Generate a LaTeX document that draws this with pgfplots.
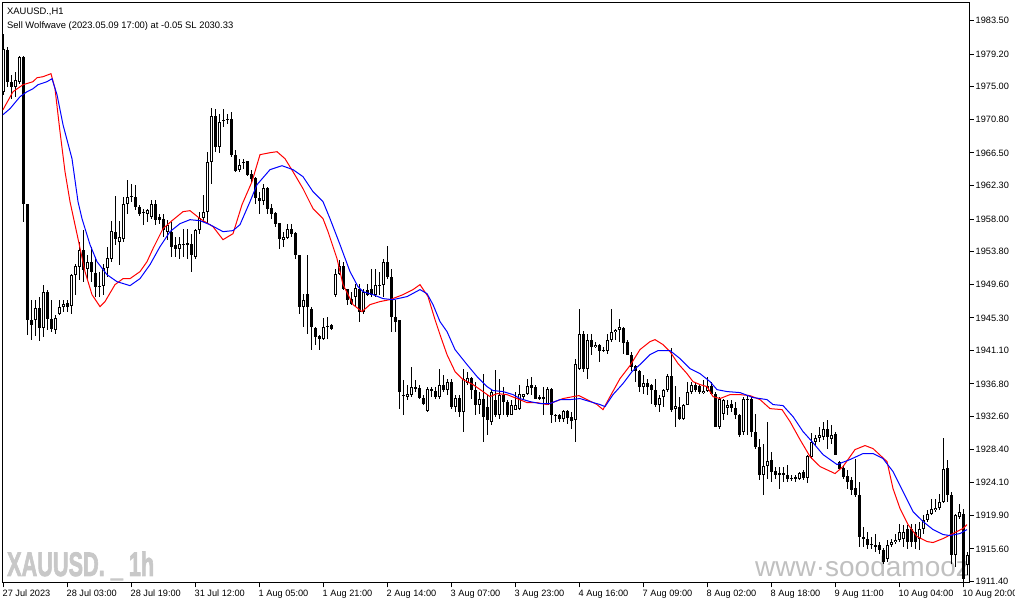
\documentclass[border=0pt]{standalone}
\usepackage{fontspec}
\setmainfont{Liberation Sans}
\newfontfamily\wmfont{Liberation Sans Bold}[FakeBold=2.5]
\usepackage{pgfplots}
\pgfplotsset{compat=1.18}
\usepackage{pgfplotstable}

\definecolor{wmgray}{RGB}{200,200,200}
\definecolor{wmgray2}{RGB}{192,192,192}

% XAUUSD H1 candles: bar index, open, high, low, close
\pgfplotstableread{
i o h l c
0 1974.37 1981.83 1973.99 1979.90
1 1979.77 1980.16 1975.02 1975.66
2 1975.66 1976.56 1973.47 1975.02
3 1975.02 1976.94 1973.73 1975.92
4 1975.66 1979.00 1975.40 1978.87
5 1978.87 1979.00 1957.67 1959.98
6 1959.98 1959.98 1943.14 1945.07
7 1945.07 1947.64 1942.50 1944.43
8 1945.07 1947.64 1943.01 1946.61
9 1946.61 1948.03 1942.37 1944.04
10 1944.04 1949.57 1942.89 1948.67
11 1948.67 1948.93 1943.79 1945.20
12 1945.20 1947.64 1943.53 1943.91
13 1943.79 1945.71 1943.27 1945.33
14 1945.84 1947.64 1945.71 1946.74
15 1946.74 1947.64 1946.10 1947.13
16 1947.26 1947.64 1946.10 1946.74
17 1946.87 1950.98 1945.84 1950.85
18 1950.85 1952.27 1948.28 1952.01
19 1951.88 1955.10 1950.21 1954.07
20 1954.07 1956.64 1949.95 1951.50
21 1951.63 1953.42 1950.34 1952.52
22 1952.52 1954.45 1949.95 1951.24
23 1951.11 1953.17 1948.03 1949.31
24 1949.44 1951.24 1948.03 1949.31
25 1949.44 1952.27 1948.28 1951.75
26 1951.75 1954.45 1950.60 1953.04
27 1952.91 1957.79 1952.52 1956.51
28 1956.38 1961.01 1954.71 1955.48
29 1955.10 1957.79 1952.14 1955.74
30 1955.48 1960.88 1955.10 1959.98
31 1959.98 1963.06 1958.69 1960.88
32 1961.01 1962.55 1960.24 1960.88
33 1960.88 1962.42 1959.21 1959.59
34 1959.59 1959.85 1958.44 1958.69
35 1958.95 1959.34 1957.28 1958.82
36 1958.69 1959.34 1957.67 1959.21
37 1958.31 1960.49 1958.05 1959.98
38 1959.98 1960.49 1957.28 1957.92
39 1958.31 1958.69 1957.41 1957.92
40 1958.05 1958.69 1955.74 1956.64
41 1956.38 1957.92 1955.35 1957.28
42 1956.38 1957.67 1953.17 1954.45
43 1954.71 1955.74 1953.17 1954.20
44 1954.20 1955.74 1952.91 1954.84
45 1954.84 1956.77 1953.17 1954.71
46 1954.71 1956.77 1952.91 1954.90
47 1954.84 1956.12 1951.24 1953.42
48 1953.17 1956.77 1952.91 1956.64
49 1956.64 1958.95 1956.12 1958.18
50 1958.18 1961.14 1957.67 1958.95
51 1958.95 1966.66 1957.41 1965.38
52 1965.38 1972.32 1962.55 1971.29
53 1971.29 1972.19 1966.66 1967.30
54 1967.30 1971.55 1966.53 1970.52
55 1970.65 1972.19 1969.87 1970.78
56 1970.90 1971.55 1970.26 1970.78
57 1970.90 1971.80 1966.02 1966.28
58 1966.28 1966.92 1964.09 1964.22
59 1964.35 1965.76 1964.09 1964.99
60 1965.38 1965.76 1964.48 1965.25
61 1965.51 1965.51 1963.58 1963.71
62 1963.83 1964.35 1962.81 1963.19
63 1963.32 1963.45 1959.98 1960.75
64 1960.75 1961.52 1958.69 1960.37
65 1960.37 1962.55 1959.85 1962.03
66 1962.03 1962.16 1958.69 1959.34
67 1959.46 1959.98 1958.05 1958.69
68 1958.82 1958.95 1957.02 1957.41
69 1957.54 1957.54 1954.20 1955.48
70 1955.35 1956.38 1954.45 1955.74
71 1955.61 1957.41 1955.48 1956.77
72 1956.77 1957.41 1955.74 1956.12
73 1956.25 1956.38 1952.91 1953.42
74 1953.42 1953.42 1945.84 1946.74
75 1946.74 1948.41 1944.17 1947.64
76 1948.41 1953.42 1943.27 1946.74
77 1946.48 1946.74 1941.22 1944.17
78 1944.04 1944.17 1941.86 1942.89
79 1943.01 1943.14 1941.22 1942.63
80 1942.63 1945.33 1942.50 1944.17
81 1944.17 1945.46 1942.63 1944.30
82 1944.43 1944.56 1943.79 1943.91
83 1948.28 1951.63 1948.03 1950.98
84 1950.98 1952.78 1950.85 1952.01
85 1952.01 1952.52 1948.93 1949.05
86 1949.05 1949.05 1947.00 1947.64
87 1947.77 1948.67 1947.00 1947.13
88 1948.03 1949.70 1946.74 1949.18
89 1949.05 1949.70 1944.81 1946.10
90 1946.10 1949.05 1945.84 1948.67
91 1948.93 1949.70 1948.16 1948.28
92 1949.05 1951.63 1948.03 1948.28
93 1948.28 1951.63 1948.03 1949.57
94 1949.44 1951.24 1948.28 1949.57
95 1949.57 1952.91 1948.03 1952.52
96 1952.52 1954.58 1950.34 1950.60
97 1950.60 1951.63 1943.53 1945.46
98 1945.46 1947.64 1943.53 1944.81
99 1945.07 1945.07 1933.63 1935.82
100 1935.43 1937.36 1932.86 1935.30
101 1935.17 1936.72 1934.79 1935.56
102 1935.43 1939.03 1935.17 1936.46
103 1936.46 1937.36 1935.82 1936.20
104 1936.33 1936.72 1934.92 1935.05
105 1935.05 1935.43 1934.15 1934.28
106 1933.37 1936.46 1933.25 1936.20
107 1936.20 1936.46 1935.17 1935.95
108 1935.95 1936.46 1934.92 1935.17
109 1935.17 1938.77 1934.92 1936.72
110 1936.72 1938.00 1935.82 1936.07
111 1936.07 1937.49 1935.43 1937.10
112 1937.10 1937.49 1933.63 1933.89
113 1933.89 1935.43 1933.25 1935.05
114 1935.05 1935.43 1932.60 1933.25
115 1933.25 1938.77 1930.68 1937.49
116 1936.97 1938.39 1936.72 1937.62
117 1937.62 1937.75 1934.92 1936.07
118 1936.07 1937.10 1932.86 1934.15
119 1934.15 1935.82 1932.99 1934.92
120 1934.92 1938.13 1929.39 1932.60
121 1933.89 1935.43 1930.29 1932.22
122 1931.96 1936.20 1931.58 1935.82
123 1934.79 1938.65 1932.60 1932.86
124 1932.86 1937.49 1932.35 1935.43
125 1935.43 1936.46 1932.86 1934.53
126 1934.53 1934.79 1932.60 1932.86
127 1932.86 1934.79 1932.86 1934.15
128 1933.50 1935.82 1933.50 1934.15
129 1933.63 1936.72 1933.50 1935.56
130 1935.17 1935.56 1934.92 1935.56
131 1935.56 1937.49 1935.43 1936.59
132 1936.72 1937.75 1935.43 1936.33
133 1936.46 1936.72 1934.92 1934.92
134 1934.92 1935.43 1934.79 1935.17
135 1935.17 1936.46 1932.86 1934.92
136 1934.15 1936.46 1934.15 1936.20
137 1936.20 1936.33 1931.83 1932.86
138 1932.86 1932.99 1931.96 1932.73
139 1932.86 1932.99 1931.96 1932.35
140 1932.35 1933.50 1931.96 1933.37
141 1933.37 1933.50 1931.70 1932.48
142 1932.60 1933.25 1931.06 1932.09
143 1932.22 1940.06 1929.39 1939.42
144 1938.77 1946.48 1938.65 1943.27
145 1943.27 1943.66 1938.39 1938.77
146 1938.77 1943.27 1937.49 1942.50
147 1942.50 1943.27 1940.57 1941.60
148 1941.60 1942.24 1941.47 1941.86
149 1941.86 1941.99 1939.67 1941.09
150 1941.22 1941.60 1940.96 1941.09
151 1941.09 1943.27 1940.70 1942.50
152 1942.50 1946.48 1942.24 1943.53
153 1943.53 1943.91 1942.50 1943.79
154 1943.79 1945.20 1942.24 1944.17
155 1944.04 1944.17 1940.70 1942.12
156 1942.24 1942.50 1940.57 1940.57
157 1940.57 1940.96 1938.52 1939.03
158 1939.16 1939.29 1937.10 1938.52
159 1938.52 1938.65 1935.82 1936.46
160 1936.46 1938.00 1935.56 1936.97
161 1936.97 1937.49 1935.43 1936.46
162 1936.72 1936.85 1934.28 1936.07
163 1936.07 1937.49 1933.89 1934.15
164 1934.15 1935.43 1933.25 1935.05
165 1935.17 1936.20 1933.89 1936.07
166 1936.07 1938.13 1935.82 1937.87
167 1937.87 1941.47 1933.25 1933.50
168 1933.63 1936.59 1931.32 1934.02
169 1933.89 1935.17 1932.22 1932.35
170 1932.35 1934.28 1932.22 1934.15
171 1934.15 1937.10 1934.15 1935.82
172 1935.82 1937.10 1935.56 1936.72
173 1936.72 1937.10 1935.82 1936.07
174 1936.59 1936.72 1935.56 1935.82
175 1935.69 1937.36 1935.56 1935.95
176 1935.95 1937.75 1935.82 1936.59
177 1936.59 1937.10 1935.43 1935.56
178 1935.56 1935.82 1931.32 1931.32
179 1931.32 1935.17 1931.06 1934.92
180 1932.99 1934.92 1932.22 1934.79
181 1933.76 1934.79 1932.86 1934.15
182 1934.28 1934.79 1933.25 1933.76
183 1933.76 1934.53 1932.35 1932.86
184 1932.86 1932.99 1930.03 1930.29
185 1930.68 1935.17 1930.29 1934.92
186 1934.92 1935.43 1930.29 1934.79
187 1934.92 1935.17 1930.03 1930.68
188 1930.68 1932.99 1928.49 1928.75
189 1928.75 1929.78 1924.51 1925.15
190 1925.15 1929.13 1922.58 1926.31
191 1926.31 1931.96 1924.64 1926.95
192 1927.08 1928.11 1924.25 1925.54
193 1925.66 1926.18 1924.64 1925.15
194 1925.41 1926.18 1923.35 1925.15
195 1925.41 1926.18 1924.25 1925.15
196 1925.15 1926.44 1924.25 1924.64
197 1924.76 1925.15 1924.38 1924.64
198 1924.89 1925.15 1924.25 1924.64
199 1924.64 1925.54 1924.51 1925.41
200 1925.54 1925.79 1924.51 1924.76
201 1924.76 1927.72 1924.12 1927.59
202 1927.46 1930.55 1927.21 1929.39
203 1929.39 1930.29 1929.01 1929.91
204 1929.91 1931.32 1929.39 1930.29
205 1930.03 1931.96 1929.65 1931.06
206 1931.06 1932.22 1928.49 1930.03
207 1929.78 1931.58 1929.13 1930.29
208 1930.42 1930.68 1927.72 1927.72
209 1926.82 1926.95 1925.79 1925.92
210 1926.05 1926.44 1924.64 1924.89
211 1925.02 1925.79 1923.35 1924.25
212 1924.51 1924.89 1922.58 1923.22
213 1923.48 1927.21 1922.32 1922.58
214 1922.58 1924.25 1915.90 1917.18
215 1917.18 1918.47 1915.90 1916.92
216 1916.92 1917.82 1915.64 1916.15
217 1916.28 1917.18 1915.64 1916.15
218 1916.15 1917.57 1915.25 1915.90
219 1916.15 1916.54 1915.00 1915.51
220 1915.51 1915.77 1913.71 1913.97
221 1914.35 1916.80 1913.97 1916.15
222 1916.15 1916.92 1915.90 1916.54
223 1916.54 1917.57 1916.28 1916.80
224 1916.80 1918.85 1916.54 1917.82
225 1916.92 1918.72 1915.90 1917.82
226 1918.21 1918.72 1915.64 1916.54
227 1918.21 1918.85 1915.90 1916.54
228 1917.82 1918.85 1915.64 1916.54
229 1916.92 1919.11 1915.51 1918.21
230 1918.21 1920.01 1917.57 1919.37
231 1919.37 1920.65 1919.11 1920.14
232 1920.14 1922.07 1920.01 1920.78
233 1920.65 1922.07 1920.39 1920.91
234 1920.91 1922.71 1920.65 1921.68
235 1921.68 1929.91 1921.55 1925.92
236 1926.05 1927.08 1921.68 1922.58
237 1922.58 1922.97 1913.71 1914.87
238 1914.87 1920.14 1913.33 1920.01
239 1919.75 1921.42 1919.50 1920.39
240 1920.14 1920.78 1911.40 1911.78
241 1913.58 1915.25 1912.30 1914.87
}\candles

% red moving average
\pgfplotstableread{
i p
0 1972.06
2.5 1974.37
5 1975.27
7.5 1975.66
8.5 1976.17
10 1976.30
12 1976.69
13 1974.76
14.25 1969.23
15.5 1964.09
16.75 1960.24
18.75 1955.48
20.5 1951.24
22.25 1948.28
24.25 1946.74
25.5 1947.39
28 1949.57
30 1950.34
31.75 1950.34
34.25 1951.24
36 1952.52
37.5 1954.20
40 1956.77
42.25 1957.79
45 1958.95
46.75 1959.08
49.25 1958.05
52.5 1957.02
55 1955.35
57.5 1956.12
59.75 1959.85
62.25 1962.81
64.25 1966.28
66.75 1966.53
68.5 1966.66
70.5 1965.76
72.5 1964.09
75 1961.91
77.5 1959.34
80 1958.05
81.25 1956.38
83.5 1952.91
85 1949.57
87.5 1947.00
89.75 1946.10
91.75 1947.00
94.25 1947.39
96.75 1947.64
100 1948.28
102.5 1948.93
104.25 1949.57
106.25 1948.03
108 1945.07
109.25 1943.14
111 1940.57
113 1938.39
115 1937.36
117.5 1936.72
120 1935.82
121.75 1935.17
123.5 1935.56
126 1935.43
128.5 1934.92
131 1934.40
133.5 1934.40
136 1934.15
138 1934.53
140 1934.92
142.5 1935.17
144 1935.30
146 1934.79
148.5 1934.15
150 1933.50
151.75 1935.17
154.25 1937.49
156.75 1939.16
159.25 1941.22
161.75 1942.24
163 1942.50
165 1941.86
166.75 1940.96
168.75 1939.42
171 1938.13
172.5 1937.10
174.25 1936.72
176 1936.46
177.5 1935.17
179.25 1934.92
181.75 1935.43
184.25 1935.43
186.75 1935.30
189.25 1934.79
191.75 1933.63
194.75 1933.50
196.75 1931.96
199.25 1929.65
201.75 1927.46
204.25 1926.18
208 1925.28
210 1926.18
213 1928.36
215.5 1928.88
217.5 1928.49
221 1926.82
222.5 1923.35
224.25 1920.78
226.25 1918.72
228.5 1917.18
231 1916.54
232.5 1916.41
235 1916.92
237.5 1917.57
240 1918.21
241 1918.72
}\redma

% blue moving average
\pgfplotstableread{
i p
0 1971.42
1.75 1972.19
4.25 1973.73
6 1974.37
7.5 1974.76
8.75 1975.27
11 1975.66
12.25 1976.04
13.5 1973.99
15 1970.13
17.25 1965.76
18.75 1960.24
19.75 1958.05
21.75 1954.71
23.5 1952.52
26 1950.85
28.5 1949.95
31.75 1949.44
34.25 1950.34
36.75 1952.14
39.25 1954.45
41.75 1956.38
44.25 1957.41
46.75 1957.92
49.25 1957.79
51.75 1957.28
55 1956.38
57.5 1956.51
59.25 1957.28
61.75 1960.24
63.5 1962.42
66.75 1964.35
69.75 1964.86
72.5 1964.35
75 1963.45
77.5 1961.52
80 1960.24
81.75 1958.05
84.25 1954.71
86.75 1951.24
88.75 1949.31
90 1948.67
92.5 1948.28
95 1947.77
97.5 1947.64
101 1948.03
104.25 1948.93
106 1948.41
107.5 1947.00
109.25 1944.81
111 1943.53
113 1941.22
116 1939.29
118.5 1937.75
121 1936.46
122.5 1935.95
125 1935.82
127.5 1935.43
129.25 1934.92
131.75 1934.53
134.25 1934.28
136.75 1934.28
139.25 1934.79
141.75 1934.79
144.25 1934.92
146.75 1934.53
149.25 1934.15
150.5 1933.89
152.5 1935.43
155 1936.85
157.25 1938.39
159.25 1939.29
161.75 1940.57
163.75 1941.09
166.75 1941.09
169.25 1940.06
171.75 1938.77
174.25 1938.13
176.75 1937.10
178.5 1936.07
181 1935.82
184.25 1935.69
187.5 1935.05
191 1934.79
192.5 1934.15
195 1934.02
197.5 1932.60
200 1930.68
202.25 1929.39
205 1927.72
208.5 1926.44
211.75 1927.08
215 1927.85
217.5 1927.85
220 1927.21
222.5 1925.54
225 1922.97
227.5 1920.39
230 1919.11
232.5 1918.08
235 1917.44
236.75 1917.31
239.25 1917.57
241 1918.08
}\bluema

\begin{document}
\begin{tikzpicture}[x=1bp,y=1bp]
% watermarks behind the chart
\node[anchor=base west, inner sep=0pt, text=wmgray, xscale=0.64,
  font=\fontsize{33.9bp}{34bp}\selectfont\wmfont] at (7,29) {XAUUSD. \_ 1h};
\begin{scope}
  \clip (2,22) rectangle (969,602);
  \node[anchor=base west, inner sep=0pt, text=wmgray2,
    font=\fontsize{28bp}{28bp}\selectfont] at (755,28) {www·soodamooz};
\end{scope}

\begin{axis}[
  at={(2bp,22bp)}, anchor=south west,
  scale only axis, width=967bp, height=580bp,
  xmin=-0.25, xmax=241.5, ymin=1911.21, ymax=1985.78,
  axis line style={line width=1bp, black},
  tick align=outside, major tick length=4.5bp,
  tick style={line width=1bp, black},
  xtick pos=bottom, ytick pos=right,
  xtick={0,16,...,240},
  xticklabels={27 Jul 2023,28 Jul 03:00,28 Jul 19:00,31 Jul 12:00,1 Aug 05:00,1 Aug 21:00,2 Aug 14:00,3 Aug 07:00,3 Aug 23:00,4 Aug 16:00,7 Aug 09:00,8 Aug 02:00,8 Aug 18:00,9 Aug 11:00,10 Aug 04:00,10 Aug 20:00},
  ytick={1911.4,1915.6,1919.9,1924.1,1928.4,1932.6,1936.8,1941.1,1945.3,1949.6,1953.8,1958.0,1962.3,1966.5,1970.8,1975.0,1979.2,1983.5},
  yticklabels={1911.40,1915.60,1919.90,1924.10,1928.40,1932.60,1936.80,1941.10,1945.30,1949.60,1953.80,1958.00,1962.30,1966.50,1970.80,1975.00,1979.20,1983.50},
  xticklabel style={anchor=north west, inner sep=0pt, xshift=-0.5bp, yshift=-2bp,
    font=\fontsize{9.2bp}{10bp}\selectfont},
  yticklabel style={anchor=west, inner sep=0pt, xshift=2bp,
    font=\fontsize{9.2bp}{10bp}\selectfont},
]
% wicks
\addplot[draw=none, mark=none, error bars/.cd, y dir=plus, y explicit, error mark=none,
  error bar style={draw=black, line width=1bp}]
  table[x=i, y=l, y error expr=\thisrow{h}-\thisrow{l}] \candles;
% bodies
\addplot[draw=none, mark=none, error bars/.cd, y dir=plus, y explicit, error mark=none,
  error bar style={draw=black, line width=3bp}]
  table[x=i, y expr={min(\thisrow{o},\thisrow{c})},
    y error expr={max(abs(\thisrow{c}-\thisrow{o}),0.13)}] \candles;
% hollow inside of rising candles
\addplot[draw=none, mark=none, error bars/.cd, y dir=plus, y explicit, error mark=none,
  error bar style={draw=white, line width=1bp}]
  table[x=i, y expr={\thisrow{o}+0.1286},
    y error expr={max(\thisrow{c}-\thisrow{o}-0.2572,0)}] \candles;
% moving averages
\addplot[red, line width=1bp, mark=none] table[x=i, y=p] \redma;
\addplot[blue, line width=1bp, mark=none] table[x=i, y=p] \bluema;
\end{axis}

\node[anchor=base west, inner sep=0pt, font=\fontsize{9.4bp}{10bp}\selectfont]
  at (7,590) {XAUUSD.,H1};
\node[anchor=base west, inner sep=0pt, font=\fontsize{9.4bp}{10bp}\selectfont]
  at (7,576.7) {Sell Wolfwave (2023.05.09 17:00) at -0.05 SL 2030.33};

\pgfresetboundingbox
\path[use as bounding box] (0,0) rectangle (1015,605);
\end{tikzpicture}
\end{document}
